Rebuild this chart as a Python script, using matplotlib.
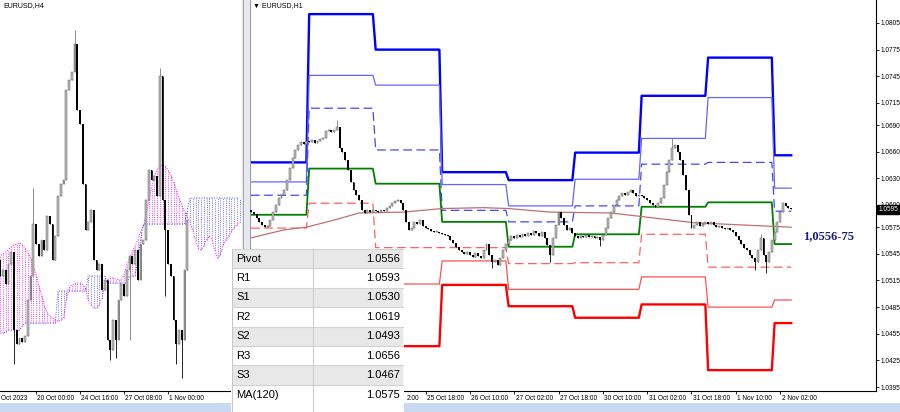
import numpy as np
import matplotlib.pyplot as plt
import matplotlib.transforms as mtransforms
from matplotlib.patches import Rectangle

plt.rcParams['font.family'] = ['Liberation Sans', 'DejaVu Sans']

PIP = 1e-4

# ---------------- EURUSD H1 (right chart), closes in pips, 23 Oct 03:00 .. 2 Nov 06:00
h1_close = [
    10592, 10590, 10585, 10581, 10578, 10575, 10576, 10583, 10592, 10600, 10608,
    10611, 10617, 10628, 10642, 10653, 10662, 10668, 10671, 10669, 10672,
    10671, 10673, 10670, 10672, 10674, 10676, 10683, 10685, 10682, 10685, 10688, 10664,
    10660, 10651, 10639, 10626, 10617, 10611, 10606, 10594, 10591, 10594, 10592, 10594,
    10593, 10592, 10594, 10593, 10597, 10599, 10602, 10605, 10606, 10602, 10594, 10581,
    10572, 10574, 10581, 10579, 10583, 10576, 10574, 10573, 10571, 10570, 10570, 10569,
    10567, 10566, 10565, 10561, 10557, 10553, 10549, 10547, 10545, 10547, 10544, 10541,
    10546, 10542, 10540, 10549, 10556, 10544, 10536, 10538, 10532, 10540, 10549, 10556,
    10561, 10565, 10563, 10566, 10564, 10567, 10565, 10569, 10566, 10571, 10569, 10565,
    10570, 10563, 10555, 10544, 10563, 10578, 10592, 10585, 10578, 10572, 10574, 10569,
    10565, 10563, 10565, 10564, 10566, 10564, 10565, 10563, 10564, 10561, 10566, 10574,
    10585, 10592, 10600, 10606, 10610, 10614, 10611, 10615, 10617, 10614, 10610, 10611,
    10610, 10608, 10606, 10602, 10600, 10598, 10602, 10608, 10623, 10637, 10651, 10664,
    10668, 10660, 10651, 10634, 10617, 10589, 10574, 10578, 10581, 10576, 10579, 10581,
    10579, 10581, 10578, 10575, 10576, 10574, 10573, 10574, 10572, 10570, 10565, 10561,
    10556, 10552, 10549, 10544, 10540, 10536, 10549, 10563, 10544, 10536, 10547, 10561,
    10570, 10581, 10592, 10602, 10599, 10597, 10595,
]
h1_first_open = 10594
h1_high_spikes = {31: 10696, 152: 10676, 184: 10567}
h1_low_spikes = {87: 10529, 108: 10536, 126: 10554, 182: 10527, 186: 10523}

# daily pivot levels (one value per trading day shown)
day_start = [0, 21, 45, 69, 93, 117, 141, 165, 189]
lvl_r3 = [1.0648, 1.0815, 1.0775, 1.0637, 1.0628, 1.0659, 1.0723, 1.0766, 1.0656]
lvl_r2 = [1.0626, 1.0746, 1.0735, 1.0623, 1.0599, 1.0629, 1.0675, 1.0721, 1.0619]
lvl_r1 = [1.0611, 1.0709, 1.0662, 1.0594, 1.0581, 1.0599, 1.0646, 1.0648, 1.0593]
lvl_pp = [1.0589, 1.0641, 1.0624, 1.0581, 1.0553, 1.0567, 1.0598, 1.0603, 1.0556]
lvl_s1 = [1.0574, 1.0602, 1.0552, 1.0552, 1.0534, 1.0535, 1.0567, 1.0530, 1.0530]
lvl_s2 = [1.0540, 1.0540, 1.0511, 1.0537, 1.0505, 1.0505, 1.0519, 1.0485, 1.0493]
lvl_s3 = [1.0500, 1.0515, 1.0441, 1.0510, 1.0486, 1.0473, 1.0488, 1.0414, 1.0467]

ma_bars = [0, 12, 20, 30, 39, 55, 69, 84, 93, 108, 130, 141, 160, 174, 195]
ma_vals = [10563, 10572, 10575, 10583, 10591, 10592, 10596, 10597, 10596, 10592,
           10591, 10587, 10580, 10578, 10575]

# first label is mostly hidden by the table, only its tail shows
h1_tick_bars = [47, 63, 79, 95, 111, 127, 143, 159, 175, 191]
h1_tick_labels = ['2:00', '25 Oct 18:00', '26 Oct 10:00', '27 Oct 02:00',
                  '27 Oct 18:00', '30 Oct 10:00', '31 Oct 02:00', '31 Oct 18:00',
                  '1 Nov 10:00', '2 Nov 02:00']
h1_price_ticks = [1.0805, 1.0775, 1.0745, 1.0715, 1.0690, 1.0660, 1.0630, 1.0600,
                  1.0575, 1.0545, 1.0515, 1.0485, 1.0455, 1.0425, 1.0395]
last_price = 1.0595

# ---------------- EURUSD H4 (left chart), closes in pips, bars from 17 Oct 16:00
h4_close = [
    10580, 10572, 10575, 10568, 10578, 10584, 10545, 10538, 10541, 10539,
    10542, 10560, 10572, 10598, 10588, 10582, 10590, 10585, 10602, 10598,
    10580, 10592, 10612, 10618, 10620, 10665, 10670, 10674, 10688, 10655,
    10648, 10618, 10595, 10599, 10605, 10580, 10575, 10578, 10565, 10570,
    10540, 10535, 10550, 10540, 10560, 10568, 10562, 10575, 10582, 10578,
    10585, 10570, 10588, 10590, 10610, 10625, 10620, 10622, 10612, 10672,
    10610, 10595, 10578, 10572, 10550, 10538, 10545, 10540, 10575, 10600,
]
h4_first_bar = 2
h4_first_open = 10582
h4_high_spikes = {15: 10616, 30: 10695, 61: 10676}
h4_low_spikes = {8: 10528, 43: 10530, 45: 10531, 50: 10540, 63: 10562, 67: 10528, 69: 10521}

# Ichimoku cloud spans (bars 2 .. 90, incl. the forward shift)
span_a = [
    10582, 10582, 10583, 10584, 10585, 10586.5, 10587.5, 10588, 10588.5, 10587.5,
    10586, 10584, 10581, 10577, 10572.5, 10567.5, 10562.5, 10557.5, 10554, 10552,
    10551, 10550, 10549.5, 10550, 10551, 10560, 10566, 10567.5, 10568, 10568.5,
    10568.5, 10567.5, 10566, 10560, 10557.5, 10556, 10556, 10557.5, 10561, 10567.5,
    10570, 10571, 10571, 10570.5, 10570, 10570, 10572.5, 10577.5, 10580.5, 10584,
    10587, 10590, 10594, 10597, 10602.5, 10610, 10616, 10621, 10625, 10627,
    10627.5, 10627, 10625, 10622.5, 10619, 10615, 10611, 10607.5, 10604, 10601,
    10599, 10595, 10590, 10586, 10585, 10587, 10590, 10592, 10590, 10585,
    10581, 10582.5, 10587.5, 10590, 10592, 10594, 10596, 10597.5, 10599,
]
span_b = [
    10543.5, 10543.5, 10543.5, 10544, 10545, 10545, 10545, 10545, 10545, 10547,
    10548.5, 10548.5, 10548.5, 10548.5, 10548.5, 10548.5, 10548.5, 10548.5, 10548.5, 10548.5,
    10548.5, 10548.5, 10564.5, 10564.5, 10564.5, 10564.5, 10564.5, 10564.5, 10564.5, 10564.5,
    10564.5, 10564.5, 10564.5, 10572, 10572, 10572, 10572, 10572, 10572, 10572,
    10568.5, 10568.5, 10568.5, 10568.5, 10568.5, 10568.5, 10568.5, 10568.5, 10572, 10572,
    10572, 10580, 10590, 10598, 10598, 10598, 10598, 10598, 10598, 10598,
    10598, 10598, 10598, 10598, 10598, 10598, 10598, 10598, 10598, 10605,
    10611, 10611, 10611, 10611, 10611, 10611, 10611, 10611, 10611, 10611,
    10611, 10611, 10611, 10611, 10611, 10611, 10611, 10611, 10611,
]

# first label is cut by the window edge, only "Oct 2023" shows
h4_tick_bars = [0, 16, 32, 48, 64]
h4_tick_labels = ['Oct 2023', '20 Oct 00:00', '24 Oct 16:00', '27 Oct 08:00', '1 Nov 00:00']

# ---------------- table
table_names = ['Pivot', 'R1', 'S1', 'R2', 'S2', 'R3', 'S3', 'MA(120)']
table_vals = [1.0556, 1.0593, 1.0530, 1.0619, 1.0493, 1.0656, 1.0467, 1.0575]


def ohlc(closes, first_open, high_spikes, low_spikes, first_bar=0):
    c = np.array(closes, dtype=float)
    o = np.concatenate([[first_open], c[:-1]])
    h = np.maximum(o, c)
    l = np.minimum(o, c)
    for k, v in high_spikes.items():
        h[k - first_bar] = max(h[k - first_bar], v)
    for k, v in low_spikes.items():
        l[k - first_bar] = min(l[k - first_bar], v)
    return o * PIP, h * PIP, l * PIP, c * PIP


def draw_candles(ax, x, o, h, l, c, width):
    up = c >= o
    body = np.maximum(np.abs(c - o), 0.3 * PIP)
    bottom = np.minimum(o, c)
    ax.vlines(x[up], l[up], h[up], color='#7a7a7a', lw=0.6, zorder=3)
    ax.vlines(x[~up], l[~up], h[~up], color='black', lw=0.6, zorder=3)
    ax.bar(x[up], body[up], width, bottom[up], color='#bdbdbd',
           edgecolor='#5e5e5e', lw=0.35, zorder=4)
    ax.bar(x[~up], body[~up], width, bottom[~up], color='black', lw=0, zorder=4)


fig = plt.figure(figsize=(9, 4.12), dpi=100)
W, H = 900.0, 412.0

# ---------------- left H4 chart
axL = fig.add_axes([0, 21 / H, 242 / W, 391 / H])
axL.set_xlim(2.91, 90.9)
axL.set_ylim(1.05145, 1.0710)

span_x = np.arange(2, 2 + len(span_a))
sa = np.array(span_a) * PIP
sb = np.array(span_b) * PIP
dots = (0, (1, 1.6))
for xi, a, b in zip(span_x, sa, sb):
    col = '#ff00ff' if a >= b else '#4a4aff'
    axL.vlines(xi, min(a, b), max(a, b), color=col, lw=0.6, linestyles=dots, zorder=1)
axL.plot(span_x, sa, color='#ff00ff', lw=0.7, ls=dots, zorder=1)
axL.plot(span_x, sb, color='#4a4aff', lw=0.7, ls=dots, zorder=1)

h4_x = np.arange(h4_first_bar, h4_first_bar + len(h4_close))
o4, h4, l4, c4 = ohlc(h4_close, h4_first_open, h4_high_spikes, h4_low_spikes, h4_first_bar)
draw_candles(axL, h4_x, o4, h4, l4, c4, 0.7)

axL.set_yticks([])
axL.set_xticks(h4_tick_bars[1:])
axL.set_xticklabels([])
axL.tick_params(axis='x', length=2, width=0.6, direction='out')
for s in ['top', 'left']:
    axL.spines[s].set_visible(False)
axL.spines['right'].set_color('#9a9a9a')
axL.spines['bottom'].set_linewidth(0.8)
tr = mtransforms.blended_transform_factory(axL.transData, axL.transAxes)
for b, lab in zip(h4_tick_bars, h4_tick_labels):
    xb = 3.3 if b < axL.get_xlim()[0] else b + 0.4
    axL.text(xb, -0.019, lab, transform=tr, fontsize=4.7, ha='left',
             va='center', clip_on=False)

# ---------------- right H1 chart
axR = fig.add_axes([250 / W, 21 / H, 626 / W, 391 / H])
axR.set_xlim(-0.36, 225.6)
axR.set_ylim(1.03905, 1.08309)

n1 = len(h1_close)
h1_x = np.arange(n1)
day_idx = np.searchsorted(day_start, h1_x, side='right') - 1


def level(vals):
    return np.array(vals)[day_idx]


axR.plot(h1_x, level(lvl_r3), color='#0000ff', lw=1.7, zorder=2)
axR.plot(h1_x, level(lvl_r2), color='#6464ff', lw=0.9, zorder=2)
axR.plot(h1_x, level(lvl_r1), color='#4646ff', lw=0.9, ls=(0, (7, 3.5)), zorder=2)
axR.plot(h1_x, level(lvl_pp), color='#008000', lw=1.3, zorder=2)
axR.plot(h1_x, level(lvl_s1), color='#ff6060', lw=0.9, ls=(0, (7, 3.5)), zorder=2)
axR.plot(h1_x, level(lvl_s2), color='#ff5050', lw=0.9, zorder=2)
axR.plot(h1_x, level(lvl_s3), color='#ff0000', lw=1.7, zorder=2)
axR.plot(ma_bars, np.array(ma_vals) * PIP, color='#c07070', lw=0.9, zorder=2)

o1, h1, l1, c1 = ohlc(h1_close, h1_first_open, h1_high_spikes, h1_low_spikes)
draw_candles(axR, h1_x, o1, h1, l1, c1, 0.7)

axR.yaxis.tick_right()
axR.set_yticks(h1_price_ticks)
axR.set_yticklabels(['%.4f' % v for v in h1_price_ticks])
axR.tick_params(axis='y', labelsize=4.7, length=2, width=0.6, pad=1.5)
axR.set_xticks(h1_tick_bars)
axR.set_xticklabels([])
axR.tick_params(axis='x', length=2, width=0.6)
axR.spines['top'].set_visible(False)
axR.spines['left'].set_color('#9a9a9a')
axR.spines['right'].set_linewidth(0.8)
axR.spines['bottom'].set_linewidth(0.8)
trR = mtransforms.blended_transform_factory(axR.transData, axR.transAxes)
for b, lab in zip(h1_tick_bars, h1_tick_labels):
    xb = b + 9.2 if lab == '2:00' else b + 0.5
    axR.text(xb, -0.019, lab, transform=trR, fontsize=4.7, ha='left',
             va='center', clip_on=False)

# current price marker sits over the 1.0600 label, as in the terminal
trP = mtransforms.blended_transform_factory(axR.transAxes, axR.transData)
axR.text(1.004, last_price, '%.4f' % last_price, transform=trP, fontsize=4.7,
         color='white', ha='left', va='center', zorder=6,
         bbox=dict(boxstyle='square,pad=0.2', fc='black', ec='black'))

axR.text(199.3, 1.0565, '1,0556-75', fontsize=9, fontweight='bold',
         family='Liberation Serif', color='#1c1c7c', ha='left', va='center')

fig.text(3 / W, 1 - 6 / H, 'EURUSD,H4', fontsize=5, va='center')
fig.text(253 / W, 1 - 6 / H, '\u25bc EURUSD,H1', fontsize=5, va='center')

# window separators and bottom strip
fig.patches.append(Rectangle((242 / W, 0), 8 / W, 1, transform=fig.transFigure,
                             fc='#e6e9ef', ec='none', zorder=5))
fig.patches.append(Rectangle((243 / W, 0), 1 / W, 1, transform=fig.transFigure,
                             fc='#a5a5a5', ec='none', zorder=5))
fig.patches.append(Rectangle((0, 0), 1, 9 / H, transform=fig.transFigure,
                             fc='#c8daf1', ec='none', zorder=5))

# ---------------- pivot table overlay
tax = fig.add_axes([231 / W, 0, 173 / W, 163 / H], zorder=10)
tax.set_xlim(0, 173)
tax.set_ylim(163, 0)
tax.axis('off')
row_h = 19.4
tax.add_patch(Rectangle((0, 0), 173, 163, fc='white', ec='none'))
for k, (name, val) in enumerate(zip(table_names, table_vals)):
    y0 = k * row_h
    fc = '#e8e8e8' if k % 2 == 0 else 'white'
    tax.add_patch(Rectangle((1, y0), 171, row_h, fc=fc, ec='none'))
    tax.plot([1, 172], [y0, y0], color='#d2d2d2', lw=0.8)
    tax.text(5, y0 + row_h / 2, name, fontsize=8, ha='left', va='center')
    tax.text(169, y0 + row_h / 2, '%.4f' % val, fontsize=8, ha='right', va='center')
tax.plot([82, 82], [0, 163], color='#cfcfcf', lw=0.8)
tax.plot([0.5, 0.5], [0, 163], color='#c8c8c8', lw=0.8)
tax.plot([172.5, 172.5], [0, 163], color='#c8c8c8', lw=0.8)

fig.savefig('out.png', dpi=100)
